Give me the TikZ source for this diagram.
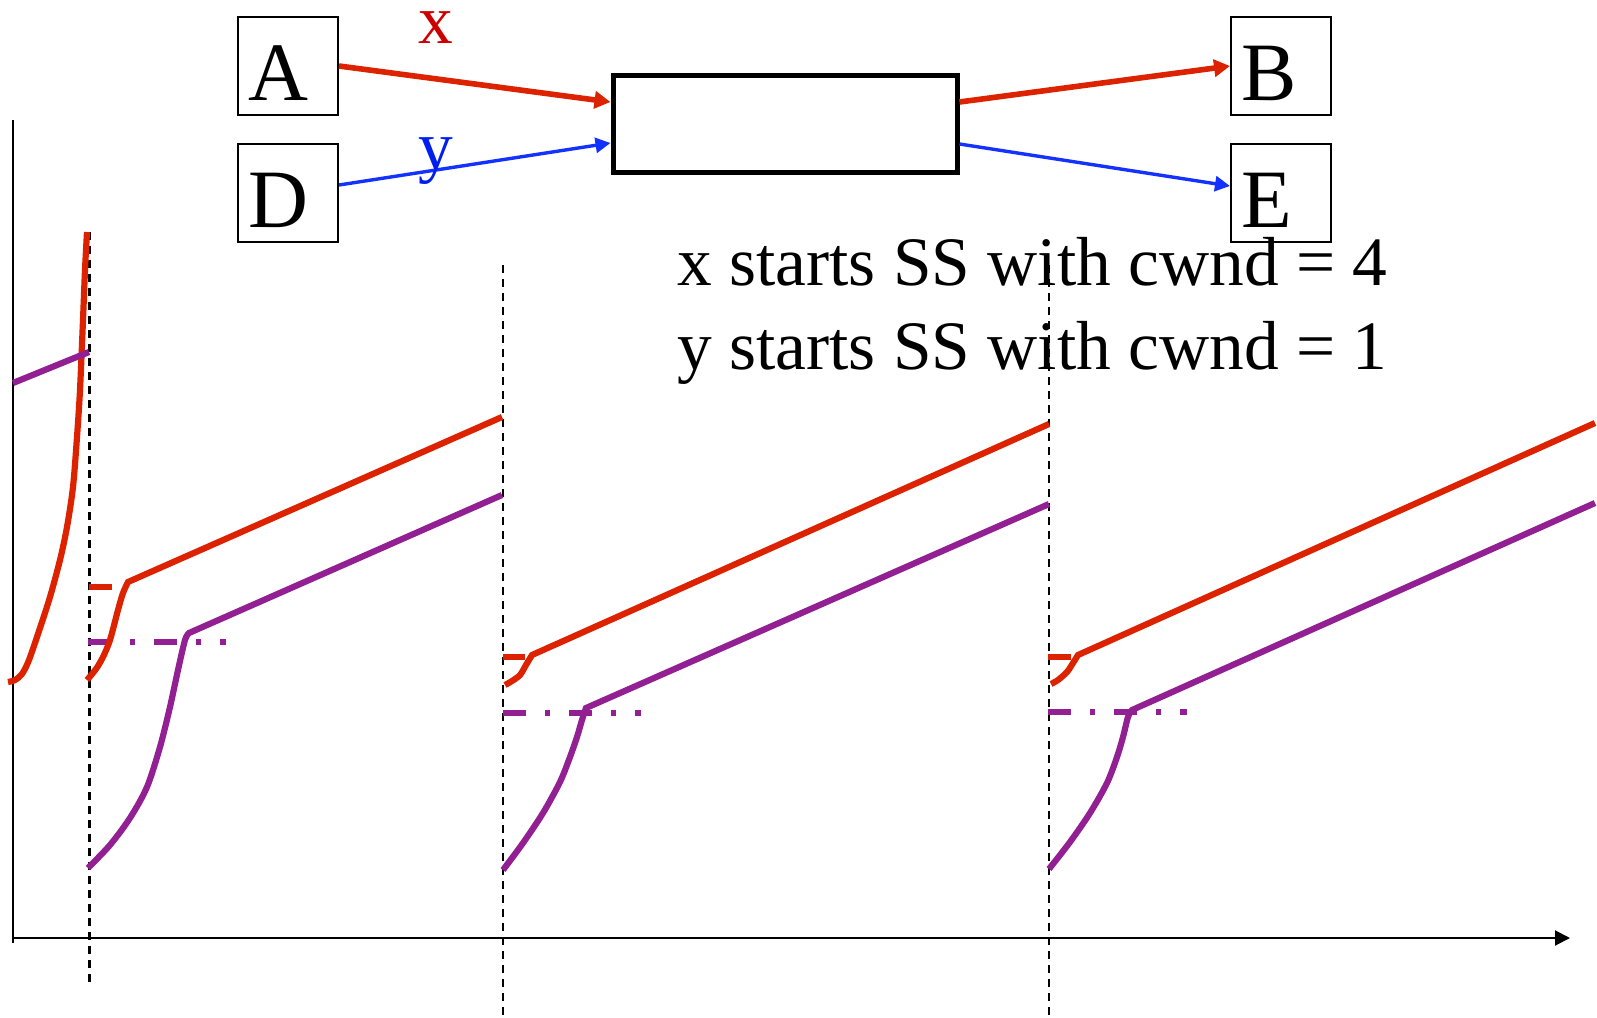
\documentclass[tikz,border=0pt]{standalone}
\usepackage{fontspec}
\setmainfont{Liberation Serif}
\usetikzlibrary{arrows.meta}
\definecolor{flowred}{RGB}{221,34,0}
\definecolor{labred}{RGB}{204,0,0}
\definecolor{flowblue}{RGB}{20,50,255}
\definecolor{labblue}{RGB}{0,30,240}
\definecolor{flowpurple}{RGB}{147,32,147}
\begin{document}
\begin{tikzpicture}[x=0.5pt,y=-0.5pt,
  hostbox/.style={draw, line width=1pt, minimum width=50pt, minimum height=49pt,
    inner xsep=5pt, inner ysep=0pt, text width=40pt, align=left,
    text height=41.5pt, text depth=7.5pt, font=\fontsize{41.5pt}{42pt}\selectfont},
  router/.style={draw, line width=2.5pt, minimum width=172pt, minimum height=48.5pt, inner sep=0pt},
  flowx/.style={draw=flowred, line width=2.8pt, -{Triangle[length=8pt,width=8.5pt]}},
  flowy/.style={draw=flowblue, line width=1.7pt, -{Triangle[length=7.5pt,width=7.5pt]}},
  biglabel/.style={font=\fontsize{34.7pt}{42pt}\selectfont, inner sep=0pt, anchor=base},
  caption/.style={font=\fontsize{34.7pt}{42pt}\selectfont, inner sep=0pt, anchor=base west},
  axisline/.style={line width=1pt, black},
  epoch/.style={line width=1.1pt, black, dash pattern=on 4.2pt off 2.8pt},
  redtrace/.style={line width=3.1pt, flowred},
  purpletrace/.style={line width=3.1pt, flowpurple},
  ssthresh/.style={line width=3.1pt, flowred, dash pattern=on 11.5pt off 60pt},
  ssthreshy/.style={line width=3.1pt, flowpurple, dash pattern=on 11.5pt off 9.5pt on 2.5pt off 9.5pt},
]
\useasboundingbox (0,0) rectangle (1597,1018);

% --- topology: two senders sharing one bottleneck ---
\node[hostbox] (A) at (288,66) {A};
\node[hostbox] (D) at (288,193) {D};
\node[hostbox] (B) at (1281,66) {B};
\node[hostbox] (E) at (1281,193) {E};
\node[router] (R) at (785,123.5) {};

\draw[flowx] (A.east) -- ([yshift=10.75pt]R.west);
\draw[flowy] ([yshift=4pt]D.east) -- ([yshift=-9.75pt]R.west);
\draw[flowx] ([yshift=10.75pt]R.east) -- (B.west);
\draw[flowy] ([yshift=-10.25pt]R.east) -- ([yshift=3.5pt]E.west);

\node[biglabel, text=labred] (xlab) at (436,43) {x};
\node[biglabel, text=labblue] (ylab) at (436,169) {y};

\node[caption] (cap1) at (677,285) {x starts SS with cwnd = 4};
\node[caption] (cap2) at (677,369) {y starts SS with cwnd = 1};

% --- axes ---
\draw[axisline] (13,120) -- (13,943);
\draw[axisline, -{Triangle[length=7.5pt,width=7.5pt]}] (13,938) -- (1570,938);

% --- loss epochs ---
\draw[epoch] (89.5,232) -- (89.5,985);
\draw[epoch] (503,265) -- (503,1018);
\draw[epoch] (1049,265) -- (1049,1018);

% --- before the first loss ---
\draw[redtrace] plot[smooth, tension=0.5] coordinates {(8,682) (15,680) (22,674) (29,660) (40,628) (50,597) (60,560) (67,527) (73,487) (77,437) (80,390) (83,320) (85,270) (87,232)};
\draw[purpletrace] (13,383) -- (89,352);

% --- epoch 1 ---
\draw[ssthresh] (89,587) -- (112,587);
\draw[ssthreshy] (88,642) -- (226,642);
\draw[redtrace] plot[smooth, tension=0.5] coordinates {(87,680) (96,669) (103,657) (110,640) (118,610) (123,593) (128,582)} -- (502,417);
\draw[purpletrace] plot[smooth, tension=0.5] coordinates {(88,868) (110,845) (130,818) (147,787) (160,747) (170,707) (178,670) (185,640) (189,633)} -- (502,495);

% --- epoch 2 ---
\draw[ssthresh] (503,657) -- (525,657);
\draw[ssthreshy] (503,713) -- (641,713);
\draw[redtrace] plot[smooth, tension=0.5] coordinates {(505,685) (512,681) (520,675) (526,665) (532,655)} -- (1049,424);
\draw[purpletrace] plot[smooth, tension=0.5] coordinates {(503,870) (523,843) (543,813) (560,782) (570,757) (577,737) (582,720) (586,708)} -- (1049,504);

% --- epoch 3 ---
\draw[ssthresh] (1048,657) -- (1073,657);
\draw[ssthreshy] (1048,712) -- (1187,712);
\draw[redtrace] plot[smooth, tension=0.5] coordinates {(1051,684) (1058,680) (1067,672) (1073,663) (1078,655)} -- (1595,423);
\draw[purpletrace] plot[smooth, tension=0.5] coordinates {(1049,869) (1070,842) (1090,813) (1107,783) (1117,757) (1123,737) (1128,717) (1132,710)} -- (1595,503);
\end{tikzpicture}
\end{document}
